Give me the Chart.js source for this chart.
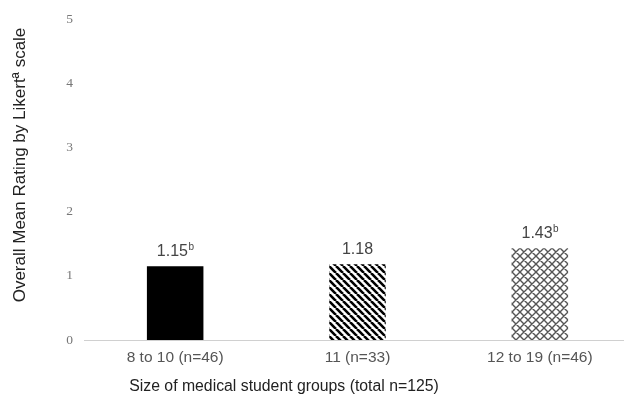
<!DOCTYPE html>
<html><head><meta charset="utf-8">
<script src="https://cdn.jsdelivr.net/npm/chart.js@4"></script>
<style>html,body{margin:0;padding:0;background:#fff;overflow:hidden}#wrap{width:631px;height:403px}</style>
</head><body><div id="wrap"><canvas id="c"></canvas></div>
<script>
const categories = ['8 to 10 (n=46)', '11 (n=33)', '12 to 19 (n=46)'];
const values = [1.15, 1.18, 1.43];
const notes = ['b', '', 'b'];
const yTicks = [0, 1, 2, 3, 4, 5];
const xTitle = 'Size of medical student groups (total n=125)';
const yTitle = 'Overall Mean Rating by Likertª scale';

function stripePattern(){
  const s = 7, c = document.createElement('canvas'); c.width = s; c.height = s;
  const g = c.getContext('2d'); g.fillStyle = '#fff'; g.fillRect(0,0,s,s);
  g.strokeStyle = '#000'; g.lineWidth = 2.6;
  g.beginPath();
  for (let k = -1; k <= 1; k++) { g.moveTo(k*s, 0); g.lineTo(k*s + s, s); }
  g.stroke();
  return g.createPattern(c, 'repeat');
}
function crossPattern(){
  const s = 8, c = document.createElement('canvas'); c.width = s; c.height = s;
  const g = c.getContext('2d'); g.fillStyle = '#fff'; g.fillRect(0,0,s,s);
  g.strokeStyle = '#555'; g.lineWidth = 1.4;
  g.beginPath();
  for (let k = -1; k <= 1; k++) { g.moveTo(k*s, 0); g.lineTo(k*s + s, s); g.moveTo(k*s + s, 0); g.lineTo(k*s, s); }
  g.stroke();
  return g.createPattern(c, 'repeat');
}

const FONT = '"Liberation Sans", Arial, sans-serif';
const labelPlugin = {
  id: 'vlabels',
  afterDatasetsDraw(chart){
    const ctx = chart.ctx, meta = chart.getDatasetMeta(0), ca = chart.chartArea;
    ctx.save();
    ctx.fillStyle = '#444'; ctx.textBaseline = 'alphabetic';
    meta.data.forEach((bar, i) => {
      const main = values[i].toFixed(2), sup = notes[i];
      ctx.font = '16px ' + FONT;
      const w1 = ctx.measureText(main).width;
      ctx.font = '10px ' + FONT;
      const w2 = sup ? ctx.measureText(sup).width : 0;
      const x0 = bar.x - (w1 + w2) / 2, yb = bar.y - 10;
      ctx.textAlign = 'left';
      ctx.font = '16px ' + FONT;
      ctx.fillText(main, x0, yb);
      if (sup) { ctx.font = '10px ' + FONT; ctx.fillText(sup, x0 + w1 + 0.5, yb - 6); }
    });
    // axis titles
    ctx.fillStyle = '#222';
    ctx.font = '15.8px ' + FONT;
    ctx.textAlign = 'center'; ctx.textBaseline = 'middle';
    ctx.fillText(xTitle, 284, 387);
    ctx.save();
    ctx.translate(20, 165);
    ctx.rotate(-Math.PI / 2);
    ctx.font = '17px ' + FONT;
    ctx.fillText(yTitle, 0, 0);
    ctx.restore();
    ctx.restore();
  }
};

new Chart(document.getElementById('c'), {
  type: 'bar',
  data: { labels: categories, datasets: [{
    data: values,
    backgroundColor: ['#000', stripePattern(), crossPattern()],
    borderWidth: 0,
    barPercentage: 0.62, categoryPercentage: 0.5
  }]},
  options: {
    responsive: true, maintainAspectRatio: false, animation: false,
    devicePixelRatio: 1,
    layout: { padding: { top: 12, right: 0, left: 0, bottom: 0 } },
    plugins: { legend: { display: false }, tooltip: { enabled: false } },
    scales: {
      x: {
        grid: { display: false, drawTicks: false },
        border: { display: true, color: '#d0d0d0', width: 1 },
        ticks: { color: '#555', font: { family: FONT, size: 15.5 }, padding: 8 },
        afterFit(s){ s.height = 63; }
      },
      y: {
        min: 0, max: 5,
        afterBuildTicks(s){ s.ticks = yTicks.map(v => ({ value: v })); },
        grid: { display: false, drawTicks: false },
        border: { display: false },
        ticks: { color: '#777', font: { family: '"Liberation Serif", "Times New Roman", serif', size: 13.5 }, padding: 11 },
        afterFit(s){ s.width = 84; }
      }
    }
  },
  plugins: [labelPlugin]
});
</script>
</body></html>
